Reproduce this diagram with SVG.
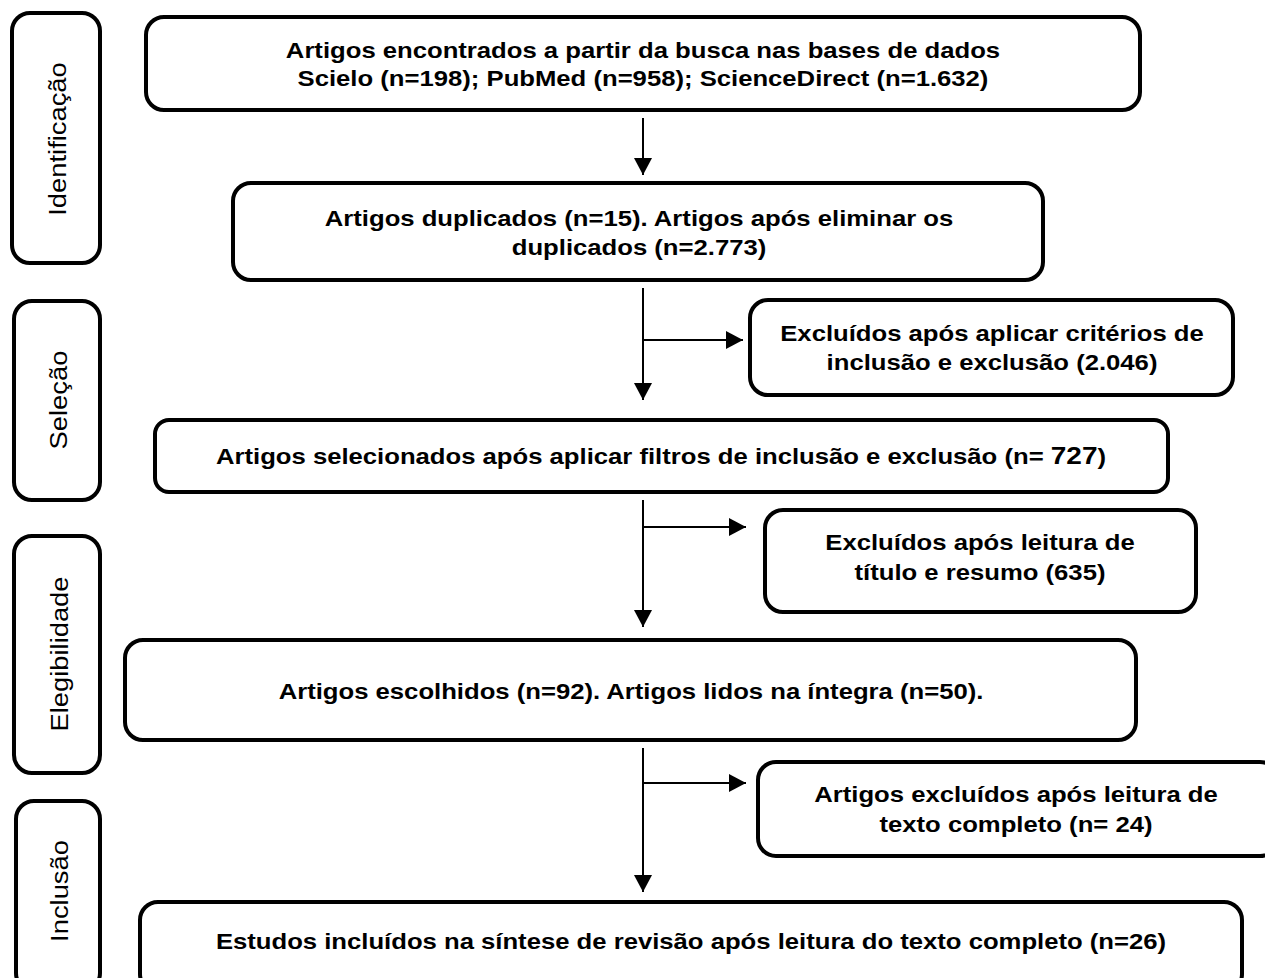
<svg xmlns="http://www.w3.org/2000/svg" width="1265" height="978" viewBox="0 0 1265 978">
<defs>
<marker id="ah" markerWidth="17" markerHeight="18" refX="17" refY="9" orient="auto" markerUnits="userSpaceOnUse" viewBox="0 0 17 18">
<path d="M0,0 L17,9 L0,18 Z" fill="#000"/>
</marker>
<style>
.box{fill:#fff;stroke:#000;stroke-width:4}
.t{font-family:"Liberation Sans",Arial,sans-serif;font-weight:bold;font-size:22px;fill:#000;text-anchor:middle}
.s{font-family:"Liberation Sans",Arial,sans-serif;font-size:24px;fill:#000;text-anchor:middle}
.c{fill:none;stroke:#000;stroke-width:2}
</style>
</defs>
<rect width="1265" height="978" fill="#fff"/>
<g id="stage-identificacao"><rect class="box" x="12" y="13" width="88" height="250" rx="18"/><text class="s" transform="translate(66,139) rotate(-90) scale(1.14,1)">Identificação</text></g>
<g id="stage-selecao"><rect class="box" x="14" y="301" width="86" height="199" rx="18"/><text class="s" transform="translate(67,400) rotate(-90) scale(1.14,1)">Seleção</text></g>
<g id="stage-elegibilidade"><rect class="box" x="14" y="536" width="86" height="237" rx="18"/><text class="s" transform="translate(68,654) rotate(-90) scale(1.14,1)">Elegibilidade</text></g>
<g id="stage-inclusao"><rect class="box" x="16" y="801" width="84" height="190" rx="18"/><text class="s" transform="translate(68,891) rotate(-90) scale(1.14,1)">Inclusão</text></g>
<g id="n1"><rect class="box" x="146" y="17" width="994" height="93" rx="18"/><text class="t" transform="translate(643,58) scale(1.167,1)">Artigos encontrados a partir da busca nas bases de dados</text><text class="t" transform="translate(643,86) scale(1.167,1)">Scielo (n=198); PubMed (n=958); ScienceDirect (n=1.632)</text></g>
<g id="n2"><rect class="box" x="233" y="183" width="810" height="97" rx="18"/><text class="t" transform="translate(639,226) scale(1.167,1)">Artigos duplicados (n=15). Artigos após eliminar os</text><text class="t" transform="translate(639,255) scale(1.167,1)">duplicados (n=2.773)</text></g>
<g id="n3"><rect class="box" x="750" y="300" width="483" height="95" rx="18"/><text class="t" transform="translate(992,341) scale(1.167,1)">Excluídos após aplicar critérios de</text><text class="t" transform="translate(992,370) scale(1.167,1)">inclusão e exclusão (2.046)</text></g>
<g id="n4"><rect class="box" x="155" y="420" width="1013" height="72" rx="14"/><text class="t" transform="translate(661,464) scale(1.167,1)">Artigos selecionados após aplicar filtros de inclusão e exclusão (n= <tspan font-size="24">727</tspan>)</text></g>
<g id="n5"><rect class="box" x="765" y="510" width="431" height="102" rx="18"/><text class="t" transform="translate(980,550) scale(1.167,1)">Excluídos após leitura de</text><text class="t" transform="translate(980,580) scale(1.167,1)">título e resumo (635)</text></g>
<g id="n6"><rect class="box" x="125" y="640" width="1011" height="100" rx="18"/><text class="t" transform="translate(631,699) scale(1.167,1)">Artigos escolhidos (n=92). Artigos lidos na íntegra (n=50).</text></g>
<g id="n7"><rect class="box" x="758" y="762" width="520" height="94" rx="18"/><text class="t" transform="translate(1016,802) scale(1.167,1)">Artigos excluídos após leitura de</text><text class="t" transform="translate(1016,832) scale(1.167,1)">texto completo (n= 24)</text></g>
<g id="n8"><rect class="box" x="140" y="902" width="1102" height="90" rx="18"/><text class="t" transform="translate(691,949) scale(1.167,1)">Estudos incluídos na síntese de revisão após leitura do texto completo (n=26)</text></g>
<g id="connectors">
<line class="c" x1="643" y1="118" x2="643" y2="175" marker-end="url(#ah)"/>
<line class="c" x1="643" y1="288" x2="643" y2="400" marker-end="url(#ah)"/>
<line class="c" x1="642" y1="340" x2="743" y2="340" marker-end="url(#ah)"/>
<line class="c" x1="643" y1="500" x2="643" y2="627" marker-end="url(#ah)"/>
<line class="c" x1="642" y1="527" x2="746" y2="527" marker-end="url(#ah)"/>
<line class="c" x1="643" y1="748" x2="643" y2="892" marker-end="url(#ah)"/>
<line class="c" x1="642" y1="783" x2="746" y2="783" marker-end="url(#ah)"/>
</g>
</svg>
